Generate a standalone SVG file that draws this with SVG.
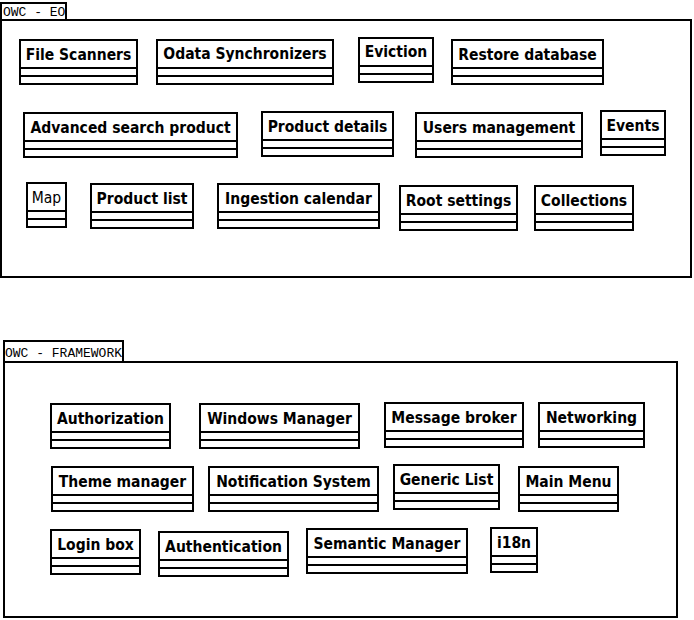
<svg xmlns="http://www.w3.org/2000/svg" width="694" height="620" viewBox="0 0 694 620">
<style>
.pkg{fill:#fff;stroke:#000;stroke-width:2}
.box{fill:#fff;stroke:#000;stroke-width:2}
.sep{stroke:#000;stroke-width:2}
.t{font-family:"DejaVu Sans Condensed","DejaVu Sans",sans-serif;font-stretch:condensed;font-weight:bold;font-size:15.5px;text-anchor:middle;fill:#000}
.tn{font-family:"DejaVu Sans Condensed","DejaVu Sans",sans-serif;font-stretch:condensed;font-size:15.5px;text-anchor:middle;fill:#000}
.pt{font-family:"Liberation Mono",monospace;font-size:13px;fill:#000}
</style>
<rect width="694" height="620" fill="#fff"/>
<g id="pkg-eo">
<rect class="pkg" x="1" y="3" width="65" height="17"/>
<rect class="pkg" x="1" y="20" width="690" height="257"/>
<text class="pt" x="3" y="16">OWC - EO</text>
</g>
<g id="pkg-framework">
<rect class="pkg" x="4" y="341" width="119" height="21"/>
<rect class="pkg" x="4" y="362" width="673" height="255"/>
<text class="pt" x="5" y="357">OWC - FRAMEWORK</text>
</g>
<g id="file-scanners"><rect class="box" x="20" y="40" width="117" height="44"/><line class="sep" x1="20" y1="68" x2="137" y2="68"/><line class="sep" x1="20" y1="76" x2="137" y2="76"/><text class="t" x="78.5" y="60">File Scanners</text></g>
<g id="odata-synchronizers"><rect class="box" x="157" y="40" width="176" height="44"/><line class="sep" x1="157" y1="68" x2="333" y2="68"/><line class="sep" x1="157" y1="76" x2="333" y2="76"/><text class="t" x="245" y="59">Odata Synchronizers</text></g>
<g id="eviction"><rect class="box" x="359" y="38" width="74" height="44"/><line class="sep" x1="359" y1="66" x2="433" y2="66"/><line class="sep" x1="359" y1="74" x2="433" y2="74"/><text class="t" x="396" y="57">Eviction</text></g>
<g id="restore-database"><rect class="box" x="452" y="40" width="151" height="44"/><line class="sep" x1="452" y1="68" x2="603" y2="68"/><line class="sep" x1="452" y1="76" x2="603" y2="76"/><text class="t" x="527.5" y="60">Restore database</text></g>
<g id="advanced-search-product"><rect class="box" x="24" y="113" width="213" height="44"/><line class="sep" x1="24" y1="141" x2="237" y2="141"/><line class="sep" x1="24" y1="149" x2="237" y2="149"/><text class="t" x="130.5" y="133">Advanced search product</text></g>
<g id="product-details"><rect class="box" x="262" y="112" width="131" height="44"/><line class="sep" x1="262" y1="140" x2="393" y2="140"/><line class="sep" x1="262" y1="148" x2="393" y2="148"/><text class="t" x="327.5" y="132">Product details</text></g>
<g id="users-management"><rect class="box" x="416" y="113" width="166" height="44"/><line class="sep" x1="416" y1="141" x2="582" y2="141"/><line class="sep" x1="416" y1="149" x2="582" y2="149"/><text class="t" x="499" y="133">Users management</text></g>
<g id="events"><rect class="box" x="601" y="111" width="64" height="44"/><line class="sep" x1="601" y1="139" x2="665" y2="139"/><line class="sep" x1="601" y1="147" x2="665" y2="147"/><text class="t" x="633" y="131">Events</text></g>
<g id="map"><rect class="box" x="27" y="183" width="39" height="44"/><line class="sep" x1="27" y1="211" x2="66" y2="211"/><line class="sep" x1="27" y1="219" x2="66" y2="219"/><text class="tn" x="46.5" y="203">Map</text></g>
<g id="product-list"><rect class="box" x="91" y="184" width="102" height="44"/><line class="sep" x1="91" y1="212" x2="193" y2="212"/><line class="sep" x1="91" y1="220" x2="193" y2="220"/><text class="t" x="142" y="204">Product list</text></g>
<g id="ingestion-calendar"><rect class="box" x="218" y="184" width="161" height="44"/><line class="sep" x1="218" y1="212" x2="379" y2="212"/><line class="sep" x1="218" y1="220" x2="379" y2="220"/><text class="t" x="298.5" y="204">Ingestion calendar</text></g>
<g id="root-settings"><rect class="box" x="400" y="186" width="117" height="44"/><line class="sep" x1="400" y1="214" x2="517" y2="214"/><line class="sep" x1="400" y1="222" x2="517" y2="222"/><text class="t" x="458.5" y="206">Root settings</text></g>
<g id="collections"><rect class="box" x="535" y="186" width="98" height="44"/><line class="sep" x1="535" y1="214" x2="633" y2="214"/><line class="sep" x1="535" y1="222" x2="633" y2="222"/><text class="t" x="584" y="206">Collections</text></g>
<g id="authorization"><rect class="box" x="51" y="404" width="119" height="44"/><line class="sep" x1="51" y1="432" x2="170" y2="432"/><line class="sep" x1="51" y1="440" x2="170" y2="440"/><text class="t" x="110.5" y="424">Authorization</text></g>
<g id="windows-manager"><rect class="box" x="200" y="404" width="159" height="44"/><line class="sep" x1="200" y1="432" x2="359" y2="432"/><line class="sep" x1="200" y1="440" x2="359" y2="440"/><text class="t" x="279.5" y="424">Windows Manager</text></g>
<g id="message-broker"><rect class="box" x="385" y="403" width="138" height="44"/><line class="sep" x1="385" y1="431" x2="523" y2="431"/><line class="sep" x1="385" y1="439" x2="523" y2="439"/><text class="t" x="454" y="423">Message broker</text></g>
<g id="networking"><rect class="box" x="539" y="403" width="105" height="44"/><line class="sep" x1="539" y1="431" x2="644" y2="431"/><line class="sep" x1="539" y1="439" x2="644" y2="439"/><text class="t" x="591.5" y="423">Networking</text></g>
<g id="theme-manager"><rect class="box" x="52" y="467" width="141" height="44"/><line class="sep" x1="52" y1="495" x2="193" y2="495"/><line class="sep" x1="52" y1="503" x2="193" y2="503"/><text class="t" x="122.5" y="487">Theme manager</text></g>
<g id="notification-system"><rect class="box" x="209" y="467" width="169" height="44"/><line class="sep" x1="209" y1="495" x2="378" y2="495"/><line class="sep" x1="209" y1="503" x2="378" y2="503"/><text class="t" x="293.5" y="487">Notification System</text></g>
<g id="generic-list"><rect class="box" x="394" y="465" width="105" height="44"/><line class="sep" x1="394" y1="493" x2="499" y2="493"/><line class="sep" x1="394" y1="501" x2="499" y2="501"/><text class="t" x="446.5" y="485">Generic List</text></g>
<g id="main-menu"><rect class="box" x="519" y="467" width="99" height="44"/><line class="sep" x1="519" y1="495" x2="618" y2="495"/><line class="sep" x1="519" y1="503" x2="618" y2="503"/><text class="t" x="568.5" y="487">Main Menu</text></g>
<g id="login-box"><rect class="box" x="51" y="530" width="89" height="44"/><line class="sep" x1="51" y1="558" x2="140" y2="558"/><line class="sep" x1="51" y1="566" x2="140" y2="566"/><text class="t" x="95.5" y="550">Login box</text></g>
<g id="authentication"><rect class="box" x="159" y="532" width="129" height="44"/><line class="sep" x1="159" y1="560" x2="288" y2="560"/><line class="sep" x1="159" y1="568" x2="288" y2="568"/><text class="t" x="223.5" y="552">Authentication</text></g>
<g id="semantic-manager"><rect class="box" x="307" y="529" width="160" height="44"/><line class="sep" x1="307" y1="557" x2="467" y2="557"/><line class="sep" x1="307" y1="565" x2="467" y2="565"/><text class="t" x="387" y="549">Semantic Manager</text></g>
<g id="i18n"><rect class="box" x="491" y="528" width="46" height="44"/><line class="sep" x1="491" y1="556" x2="537" y2="556"/><line class="sep" x1="491" y1="564" x2="537" y2="564"/><text class="t" x="514" y="548">i18n</text></g>
<g id="connectors"></g>
</svg>
